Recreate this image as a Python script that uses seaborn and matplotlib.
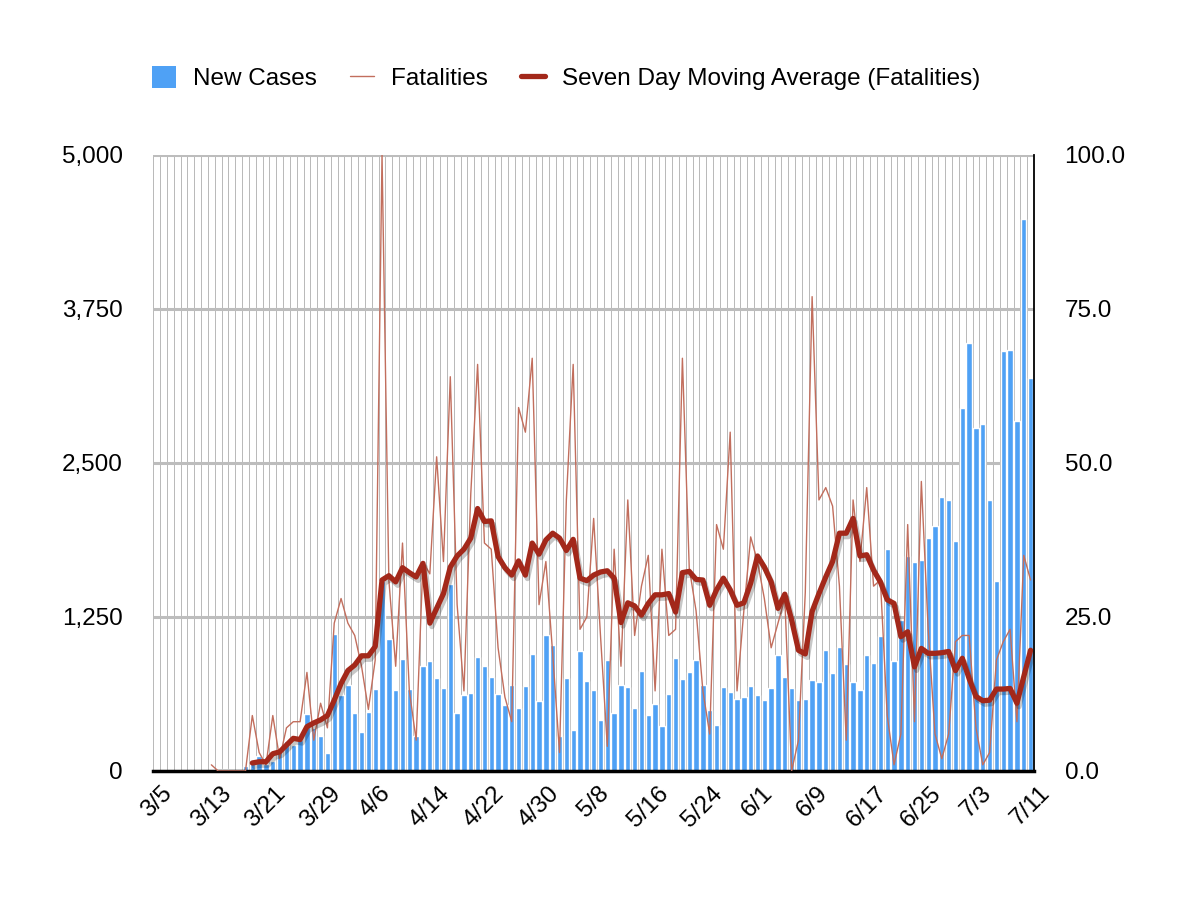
import numpy as np
import pandas as pd
import seaborn as sns
import matplotlib.pyplot as plt
import matplotlib.patheffects as pe
from matplotlib.lines import Line2D
from matplotlib.patches import Patch

# daily data 3/5 .. 7/11
dates = pd.date_range("2020-03-05", "2020-07-11", freq="D")
day_labels = [f"{d.month}/{d.day}" for d in dates]

new_cases = [
    0, 0, 0, 0, 0, 0, 0, 0, 0, 10,
    16, 8, 16, 41, 81, 122, 55, 81, 153, 240,
    214, 250, 465, 345, 280, 146, 1115, 620, 700, 472,
    320, 482, 662, 1540, 1075, 654, 911, 669, 287, 853,
    895, 758, 676, 1520, 468, 620, 637, 927, 849, 765,
    628, 538, 700, 508, 690, 952, 568, 1104, 1023, 284,
    755, 333, 974, 731, 658, 414, 901, 471, 698, 682,
    511, 812, 455, 544, 365, 625, 917, 747, 804, 901,
    698, 495, 373, 682, 641, 584, 601, 690, 617, 576,
    674, 942, 763, 674, 576, 584, 739, 722, 982, 796,
    1007, 869, 725, 655, 945, 875, 1095, 1798, 890, 1224,
    1742, 1700, 1710, 1895, 1985, 2220, 2203, 1870, 2943, 3470,
    2781, 2820, 2198, 1542, 3407, 3419, 2838, 4482, 3186,
]

# fatalities start 3/13
fatal_start = 8
fatalities = [
    1, 0, 0, 0, 0, 0, 9, 3, 1, 9,
    2, 7, 8, 8, 16, 5, 11, 7, 24, 28,
    24, 22, 17, 10, 18, 100, 31, 17, 37, 13,
    5, 34, 32, 51, 34, 64, 27, 13, 45, 66,
    37, 36, 20, 12, 8, 59, 55, 67, 27, 34,
    19, 3, 44, 66, 23, 25, 41, 22, 4, 36,
    17, 44, 22, 30, 35, 13, 36, 22, 23, 67,
    33, 26, 13, 6, 40, 36, 55, 13, 26, 38,
    34, 28, 20, 24, 28, 0, 5, 29, 77, 44,
    46, 43, 30, 5, 44, 34, 46, 30, 31, 9,
    1, 6, 40, 8, 47, 23, 6, 2, 6, 21,
    22, 22, 7, 1, 3, 18, 21, 23, 8, 35, 31,
]

# seven day moving average starts 3/19
avg_start = 14
moving_avg = [
    1.3, 1.5, 1.5, 2.8, 3.1, 4.2, 5.3, 5.1, 7.2, 7.8,
    8.3, 9.0, 11.5, 14.2, 16.3, 17.2, 18.7, 18.7, 20.2, 31.0,
    31.7, 30.7, 33.0, 32.2, 31.5, 33.7, 24.0, 26.4, 28.8, 33.1,
    34.9, 36.0, 37.8, 42.6, 40.5, 40.6, 34.8, 33.0, 31.8, 34.1,
    31.8, 37.0, 35.2, 37.5, 38.6, 37.8, 35.8, 37.6, 31.3, 30.9,
    31.8, 32.3, 32.5, 31.3, 24.1, 27.3, 26.8, 25.3, 27.2, 28.6,
    28.6, 28.8, 25.8, 32.2, 32.4, 31.1, 31.0, 26.9, 29.4, 31.3,
    29.4, 26.9, 27.3, 30.5, 34.9, 33.1, 30.7, 26.4, 28.7, 24.5,
    19.6, 19.0, 25.9, 28.8, 31.5, 34.0, 38.6, 38.6, 41.0, 34.9,
    35.1, 32.6, 30.7, 27.8, 27.2, 21.8, 22.6, 16.9, 19.9, 19.1,
    19.1, 19.2, 19.4, 16.3, 18.3, 15.0, 12.1, 11.4, 11.5, 13.3,
    13.3, 13.4, 11.0, 15.3, 19.6,
]

tick_labels = ["3/5", "3/13", "3/21", "3/29", "4/6", "4/14", "4/22", "4/30", "5/8",
               "5/16", "5/24", "6/1", "6/9", "6/17", "6/25", "7/3", "7/11"]
case_ticks = [0, 1250, 2500, 3750, 5000]
fatal_ticks = [0, 25, 50, 75, 100]

blue = "#4fa1f5"
thin_red = "#c26e5d"
dark_red = "#a3281a"

sns.set_style("white")
plt.rcParams['font.family'] = ['Liberation Sans', 'DejaVu Sans']
plt.rcParams['text.color'] = 'black'

cases_df = pd.DataFrame({"day": day_labels, "cases": new_cases})
fatal_df = pd.DataFrame({"pos": np.arange(fatal_start, fatal_start + len(fatalities)),
                         "deaths": fatalities})
avg_df = pd.DataFrame({"pos": np.arange(avg_start, avg_start + len(moving_avg)),
                       "avg": moving_avg})

fig = plt.figure(figsize=(11.84, 9.24), dpi=100)
ax = fig.add_axes([0.1295, 0.1656, 0.7438, 0.6667])

sns.barplot(data=cases_df, x="day", y="cases", order=day_labels, color=blue,
            saturation=1, width=0.78, ax=ax)
ax.set_xlim(-0.5, len(day_labels) - 0.5)
ax.set_ylim(0, 5000)
ax.set_xlabel("")
ax.set_ylabel("")

# gridlines: one per day (vertical), every 1250 (horizontal)
ax.set_axisbelow(True)
ax.set_xticks(np.arange(-0.5, len(day_labels), 1), minor=True)
ax.grid(which="minor", axis="x", color="#b8b8b8", lw=0.7)
ax.grid(which="major", axis="y", color="#bdbdbd", lw=2.2)
ax.grid(which="major", axis="x", visible=False)

ax.set_xticks(np.arange(0, len(day_labels), 8))
ax.set_xticklabels(tick_labels, rotation=45, ha="center", fontsize=17.5)
ax.set_yticks(case_ticks)
ax.set_yticklabels([f"{v:,}" for v in case_ticks], fontsize=17.5)
ax.tick_params(axis="x", which="both", length=0, pad=8, labelcolor="black")
ax.tick_params(axis="y", length=0, pad=22, labelcolor="black")

for side in ["left", "top", "right"]:
    ax.spines[side].set_visible(False)
ax.spines["bottom"].set_color("black")
ax.spines["bottom"].set_linewidth(2.5)

ax2 = ax.twinx()
sns.lineplot(data=fatal_df, x="pos", y="deaths", color=thin_red, lw=1.0, ax=ax2)
sns.lineplot(data=avg_df, x="pos", y="avg", color=dark_red, lw=3.8, ax=ax2,
             path_effects=[pe.SimpleLineShadow(offset=(1.5, -2.5), shadow_color="black", alpha=0.22),
                           pe.Normal()])
ax2.set_ylim(0, 100)
ax2.set_xlim(-0.5, len(day_labels) - 0.5)
ax2.set_ylabel("")
ax2.set_yticks(fatal_ticks)
ax2.set_yticklabels([f"{v:.1f}" for v in fatal_ticks], fontsize=17.5)
ax2.tick_params(axis="y", length=0, pad=22, labelcolor="black")
ax2.grid(False)
for side in ["left", "top", "bottom"]:
    ax2.spines[side].set_visible(False)
ax2.spines["right"].set_color("black")
ax2.spines["right"].set_linewidth(1.3)

handles = [
    Patch(facecolor=blue, edgecolor="none"),
    Line2D([0], [0], color=thin_red, lw=1.0),
    Line2D([0], [0], color=dark_red, lw=3.8),
]
labels = ["New Cases", "Fatalities", "Seven Day Moving Average (Fatalities)"]
fig.legend(handles, labels, loc="center left", bbox_to_anchor=(0.128, 1 - 78 / 924),
           ncol=3, frameon=False, fontsize=17.5, handlelength=1.0, handleheight=1.0,
           handletextpad=0.7, columnspacing=1.35, borderaxespad=0, borderpad=0,
           labelcolor="black")

fig.savefig("out.png", dpi=100)
